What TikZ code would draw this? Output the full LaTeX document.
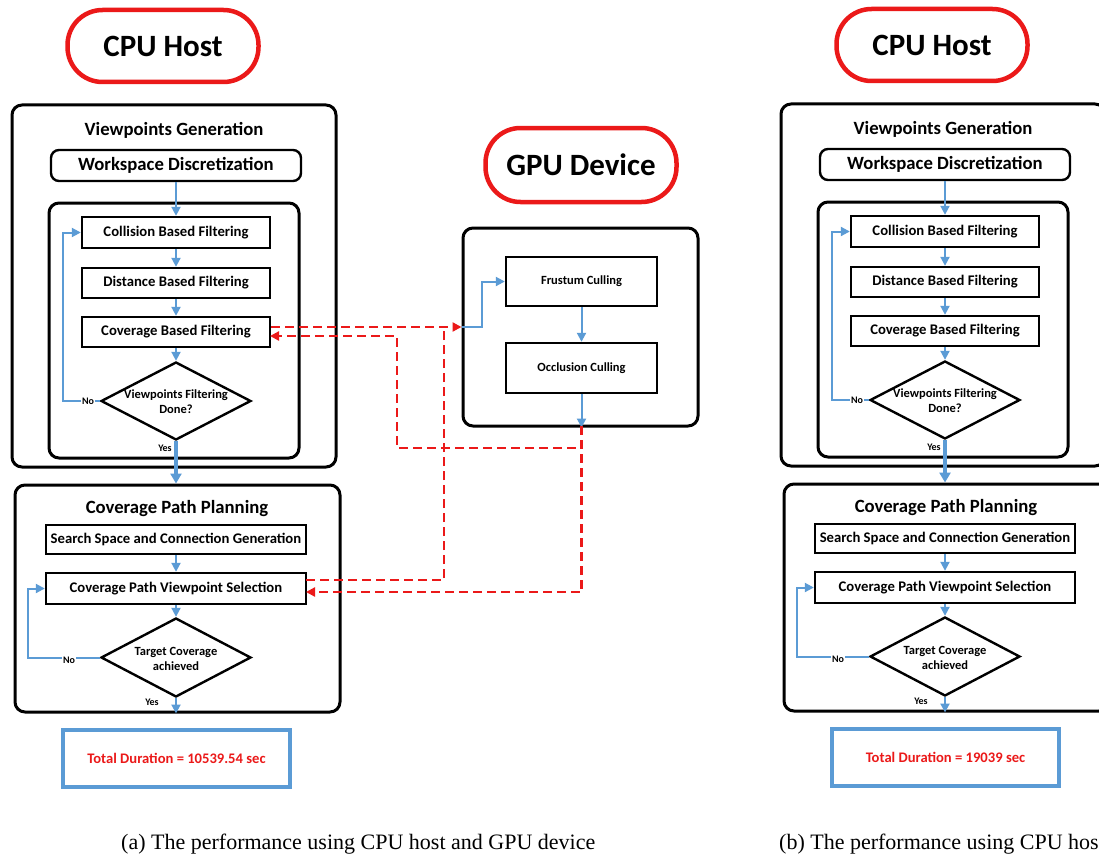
\documentclass[tikz,border=0pt]{standalone}
\usepackage{fontspec}
\usepackage{graphicx}
\setmainfont{Carlito}
\newfontfamily\capfont{Liberation Serif}
\usetikzlibrary{arrows.meta,shapes.geometric}
\definecolor{myblue}{RGB}{91,155,213}
\definecolor{myred}{RGB}{235,25,25}
\newcommand{\myfs}[2]{\fontsize{#1}{#2}\selectfont}
\tikzset{
  pill/.style={draw=myred, line width=4.5pt, rounded corners=35pt, minimum width=191pt, minimum height=72pt, font=\myfs{31}{36}\bfseries},
  container/.style={draw, line width=3pt, rounded corners=10pt, inner sep=0pt},
  box/.style={draw, line width=2.4pt, inner sep=0pt, font=\myfs{14.7}{17}\bfseries},
  dia/.style={draw, diamond, line width=2.4pt, inner sep=0pt},
  dtext/.style={align=center, font=\myfs{12.5}{15.5}\bfseries},
  flow/.style={draw=myblue, line width=2pt, -{Triangle[length=9pt,width=9pt]}},
  bigflow/.style={draw=myblue, line width=3.5pt, -{Triangle[length=10pt,width=11pt]}},
  rdash/.style={draw=myred, line width=2.5pt, dash pattern=on 9pt off 5pt, -{Triangle[length=9pt,width=9pt]}},
  lbl/.style={font=\myfs{10}{12}\bfseries, inner sep=1pt, fill=white},
  ttl/.style={font=\myfs{18.7}{22}\bfseries},
  total/.style={draw=myblue, line width=4pt, minimum width=227pt, minimum height=57pt, text=myred, font=\myfs{14.6}{17}\bfseries},
  captext/.style={anchor=base west, inner sep=0pt, font=\capfont\myfs{22}{26}}
}
\newcommand{\cpuflow}[2]{%
  \node[pill] (cpu#1) at (163,46) {CPU Host};
  \node[container, minimum width=324pt, minimum height=362pt] (vg#1) at (174,286) {};
  \node[ttl] (vgt#1) at (174,130) {Viewpoints Generation};
  \node[box, rounded corners=8pt, minimum width=250pt, minimum height=31pt, font=\myfs{18.7}{22}\bfseries] (ws#1) at (176,165.5) {Workspace Discretization};
  \node[container, minimum width=250pt, minimum height=255pt] (in#1) at (174,330.5) {};
  \node[box, minimum width=188pt, minimum height=31pt] (col#1) at (176,232.5) {Collision Based Filtering};
  \node[box, minimum width=188pt, minimum height=30pt] (dis#1) at (176,283) {Distance Based Filtering};
  \node[box, minimum width=188pt, minimum height=30pt] (cov#1) at (176,332) {Coverage Based Filtering};
  \node[dia, minimum width=150pt, minimum height=78pt] (da#1) at (176,401) {};
  \node[dtext] (dat#1) at (176,401.5) {Viewpoints Filtering\\Done?};
  \draw[flow] (ws#1) -- (col#1);
  \draw[flow] (col#1) -- (dis#1);
  \draw[flow] (dis#1) -- (cov#1);
  \draw[flow] (cov#1) -- (da#1);
  \coordinate (la#1) at (63,401);
  \draw[flow] (da#1.west) -- (la#1) |- (col#1.west);
  \node[lbl] (noa#1) at (88,401) {No};
  \node[container, minimum width=325pt, minimum height=227pt] (cpp#1) at (177.5,598.5) {};
  \draw[bigflow] (da#1.south) -- (da#1.south |- cpp#1.north);
  \node[lbl, fill=none] (yesa#1) at (165,448) {Yes};
  \node[ttl] (cppt#1) at (177,509) {Coverage Path Planning};
  \node[box, minimum width=260pt, minimum height=29pt] (ss#1) at (176,539.5) {Search Space and Connection Generation};
  \node[box, minimum width=260pt, minimum height=31pt] (cpvs#1) at (176,588.5) {Coverage Path Viewpoint Selection};
  \node[dia, minimum width=150pt, minimum height=79pt] (db#1) at (176,657.5) {};
  \node[dtext] (dbt#1) at (176,659) {Target Coverage\\achieved};
  \draw[flow] (ss#1) -- (cpvs#1);
  \draw[flow] (cpvs#1) -- (db#1);
  \coordinate (lb#1) at (28,657.5);
  \draw[flow] (db#1.west) -- (lb#1) |- (cpvs#1.west);
  \node[lbl] (nob#1) at (69,660) {No};
  \draw[flow] (db#1.south) -- (db#1.south |- cpp#1.south);
  \node[lbl, fill=none] (yesb#1) at (152,702) {Yes};
  \node[total] (tot#1) at (176.5,758.5) {#2};
}
\begin{document}
\begin{tikzpicture}[x=1pt, y=-1pt]
  \useasboundingbox (0,0) rectangle (1099,856);
  \clip (0,0) rectangle (1099,856);
  \fill[white] (0,0) rectangle (1099,856);
  % left diagram
  \cpuflow{A}{Total Duration = 10539.54 sec}
  % GPU part
  \node[pill, minimum height=74pt] (gpu) at (581,165) {GPU Device};
  \node[container, minimum width=235pt, minimum height=198pt] (gbox) at (580.5,327) {};
  \node[box, font=\myfs{12.5}{15}\bfseries, minimum width=151pt, minimum height=49pt] (fru) at (581.5,281.5) {Frustum Culling};
  \node[box, font=\myfs{12.5}{15}\bfseries, minimum width=151pt, minimum height=50pt] (occ) at (581.5,368) {Occlusion Culling};
  \draw[flow] (fru) -- (occ);
  \draw[flow] (occ.south) -- (occ.south |- gbox.south);
  \coordinate (gb1) at (482,327);
  \draw[flow] (gbox.west) -- (gb1) |- (fru.west);
  % red dashed connectors
  \coordinate (rj) at (444,327);
  \coordinate (cpo) at (306,580);
  \coordinate (rt) at (397,448);
  \coordinate (ci) at (270,336);
  \coordinate (cpi) at (306,592);
  \coordinate (gout) at (581.5,426);
  \draw[rdash] (covA.east |- gbox.west) -- (gbox.west);
  \draw[rdash, -] (cpo) -| (rj);
  \draw[rdash] (gout) |- (rt) |- (ci);
  \draw[rdash] (gout) |- (cpi);
  % right diagram
  \begin{scope}[xshift=769pt, yshift=1pt]
    \cpuflow{B}{Total Duration = 19039 sec}
  \end{scope}
  % captions
  \node[captext] (capa) at (121,849) {(a) The performance using CPU host and GPU device};
  \node[captext] (capb) at (779,849) {(b) The performance using CPU host};
\end{tikzpicture}
\end{document}
